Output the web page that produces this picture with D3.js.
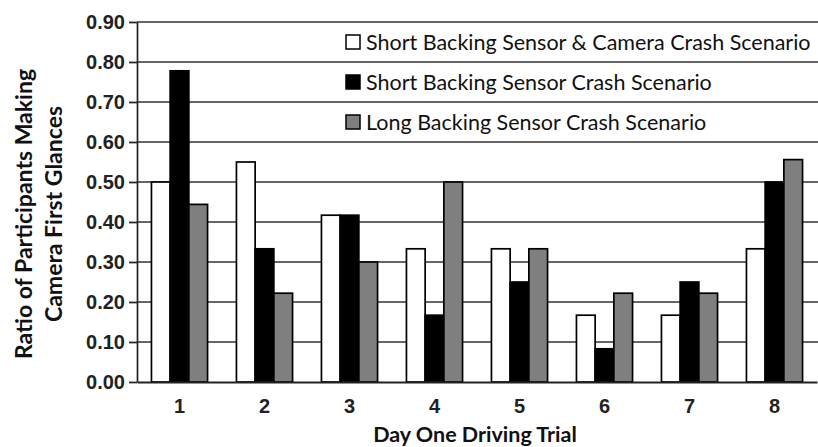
<!DOCTYPE html>
<html>
<head>
<meta charset="utf-8">
<script src="https://cdn.jsdelivr.net/npm/d3@7"></script>
<style>
  body { margin: 0; background: #fff; }
  svg { display: block; font-family: Lato, "Open Sans", sans-serif; }
  .axis path, .axis line { stroke: #222; }
  .grid line { stroke: #333; stroke-width: 1.7; }
</style>
</head>
<body>
<svg id="chart"></svg>
<script>
// Day one driving trials
const trials = ["1", "2", "3", "4", "5", "6", "7", "8"];
const seriesNames = [
  "Short Backing Sensor & Camera Crash Scenario",
  "Short Backing Sensor Crash Scenario",
  "Long Backing Sensor Crash Scenario"
];
const seriesColors = ["#ffffff", "#000000", "#7f7f7f"];

const sensorCamera = [0.50, 0.55, 0.417, 0.333, 0.333, 0.167, 0.167, 0.333];
const sensorShort  = [0.778, 0.333, 0.417, 0.167, 0.25, 0.083, 0.25, 0.50];
const sensorLong   = [0.444, 0.222, 0.30, 0.50, 0.333, 0.222, 0.222, 0.556];

const yTicks = [0, 0.1, 0.2, 0.3, 0.4, 0.5, 0.6, 0.7, 0.8, 0.9];

const allSeries = [sensorCamera, sensorShort, sensorLong];

const config = {
  width: 818,
  height: 447,
  margin: { top: 22, right: 0, bottom: 65, left: 137 }
};

const width = config.width - config.margin.left - config.margin.right;
const height = config.height - config.margin.top - config.margin.bottom;

const svg = d3.select('#chart')
    .attr('width', config.width)
    .attr('height', config.height);

const chart = svg.append('g')
    .attr('transform', `translate(${config.margin.left},${config.margin.top})`);

const xScale = d3.scaleBand()
    .domain(trials)
    .range([0, width - 1])
    .paddingInner(0.34)
    .paddingOuter(0.17);

const xSub = d3.scaleBand()
    .domain(d3.range(seriesNames.length))
    .range([0, xScale.bandwidth()]);

const yScale = d3.scaleLinear()
    .domain([0, 0.9])
    .range([height, 0]);

// gridlines
chart.append('g')
    .attr('class', 'grid')
  .selectAll('line')
  .data(yTicks.slice(1))
  .join('line')
    .attr('x1', 0)
    .attr('x2', width)
    .attr('y1', d => yScale(d))
    .attr('y2', d => yScale(d));

// bars
const rows = trials.map((t, i) => ({ trial: t, values: allSeries.map(s => s[i]) }));

chart.append('g')
  .selectAll('g')
  .data(rows)
  .join('g')
    .attr('transform', d => `translate(${xScale(d.trial)},0)`)
  .selectAll('rect')
  .data(d => d.values.map((v, k) => ({ k, v })))
  .join('rect')
    .attr('x', d => xSub(d.k))
    .attr('width', xSub.bandwidth())
    .attr('y', d => yScale(d.v))
    .attr('height', d => height - yScale(d.v))
    .attr('fill', d => seriesColors[d.k])
    .attr('stroke', '#000')
    .attr('stroke-width', 1.7);

// axes
const yAxis = d3.axisLeft(yScale)
    .tickValues(yTicks)
    .tickSize(8)
    .tickSizeOuter(0)
    .tickPadding(4)
    .tickFormat(d3.format('.2f'));

const xAxis = d3.axisBottom(xScale)
    .tickSize(0)
    .tickSizeOuter(0)
    .tickPadding(17);

const yAxisG = chart.append('g')
    .attr('class', 'axis y-axis')
    .call(yAxis);
yAxisG.selectAll('line, path').attr('stroke-width', 1.7);
yAxisG.selectAll('text')
    .attr('font-size', 20)
    .attr('font-weight', 'bold')
    .attr('fill', '#222');

const xAxisG = chart.append('g')
    .attr('class', 'axis x-axis')
    .attr('transform', `translate(0,${height})`)
    .call(xAxis);
xAxisG.select('path').attr('stroke-width', 1.8);
xAxisG.selectAll('text')
    .attr('font-size', 20)
    .attr('font-weight', 'bold')
    .attr('fill', '#222');

// axis titles
svg.append('text')
    .attr('x', 475)
    .attr('y', 442)
    .attr('text-anchor', 'middle')
    .attr('font-size', 21.5)
    .attr('font-weight', 'bold')
    .attr('fill', '#111')
    .text('Day One Driving Trial');

const yTitle = svg.append('text')
    .attr('transform', 'translate(0,214) rotate(-90)')
    .attr('text-anchor', 'middle')
    .attr('font-size', 23)
    .attr('font-weight', 'bold')
    .attr('fill', '#111');
yTitle.append('tspan').attr('x', 0).attr('y', 32).text('Ratio of Participants Making');
yTitle.append('tspan').attr('x', 0).attr('y', 62).text('Camera First Glances');

// legend
const legend = svg.append('g')
    .attr('transform', 'translate(346,0)');

const items = legend.selectAll('g')
  .data(seriesNames)
  .join('g')
    .attr('transform', (d, i) => `translate(0,${yScale(0.85 - i * 0.1) + config.margin.top})`);

items.append('rect')
    .attr('x', 0)
    .attr('y', -7)
    .attr('width', 14)
    .attr('height', 14)
    .attr('fill', (d, i) => seriesColors[i])
    .attr('stroke', '#000')
    .attr('stroke-width', 1.5);

items.append('text')
    .attr('x', 20)
    .attr('dy', '0.35em')
    .attr('font-size', 21.5)
    .attr('fill', '#111')
    .text(d => d);
</script>
</body>
</html>
